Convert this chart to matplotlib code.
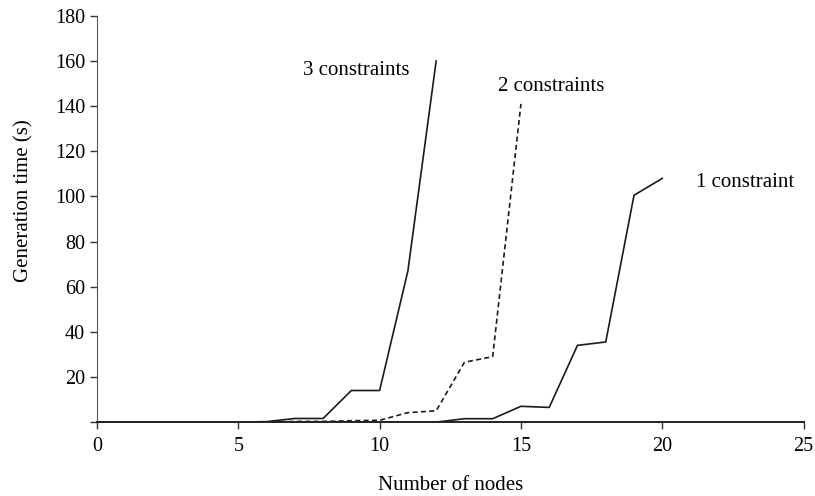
import matplotlib.pyplot as plt

plt.rcParams['font.family'] = ['Liberation Serif', 'DejaVu Serif']

nodes_3 = [0, 1, 2, 3, 4, 5, 6, 7, 8, 9, 10, 11, 12]
time_3 = [0, 0, 0, 0, 0, 0, 0.2, 1.6, 1.6, 14, 14, 67, 160]

nodes_2 = [0, 1, 2, 3, 4, 5, 6, 7, 8, 9, 10, 11, 12, 13, 14, 15]
time_2 = [0, 0, 0, 0, 0, 0, 0, 0.3, 0.3, 0.6, 0.8, 4.2, 5, 26.5, 29, 141]

nodes_1 = [0, 1, 2, 3, 4, 5, 6, 7, 8, 9, 10, 11, 12, 13, 14, 15, 16, 17, 18, 19, 20]
time_1 = [0, 0, 0, 0, 0, 0, 0, 0, 0, 0, 0, 0, 0, 1.5, 1.5, 7, 6.5, 34, 35.5, 100.5, 108]

yticks = [0, 20, 40, 60, 80, 100, 120, 140, 160, 180]
xticks = [0, 5, 10, 15, 20, 25]

fig = plt.figure(figsize=(8.15, 4.96), dpi=100)
ax = fig.add_axes([0.119, 0.149, 0.867, 0.819])

ax.plot(nodes_3, time_3, color='#1a1a1a', lw=1.2)
ax.plot(nodes_2, time_2, color='#1a1a1a', lw=1.2, ls=(0, (3, 2)))
ax.plot(nodes_1, time_1, color='#1a1a1a', lw=1.2)

ax.text(7.3, 156, '3 constraints', fontsize=15, va='center', ha='left')
ax.text(14.2, 148.5, '2 constraints', fontsize=15, va='center', ha='left')
ax.text(21.2, 106, '1 constraint', fontsize=15, va='center', ha='left')

ax.set_xlim(0, 25)
ax.set_ylim(0, 180)
ax.set_xticks(xticks)
ax.set_yticks(yticks)
ax.set_yticklabels(['' if t == 0 else str(t) for t in yticks])
ax.tick_params(labelsize=14.5, length=5, width=1, color='#333333', direction='out')
ax.tick_params(axis='x', pad=6)

for side in ['top', 'right']:
    ax.spines[side].set_visible(False)
ax.spines['left'].set_color('#555555')
ax.spines['bottom'].set_color('#222222')
ax.spines['bottom'].set_linewidth(1.4)

ax.set_xlabel('Number of nodes', fontsize=15, va='center')
ax.xaxis.set_label_coords(0.5, -0.155)
ax.set_ylabel('Generation time (s)', fontsize=15, va='center')
ax.yaxis.set_label_coords(-0.103, 0.545)

fig.savefig('out.png', dpi=100)
